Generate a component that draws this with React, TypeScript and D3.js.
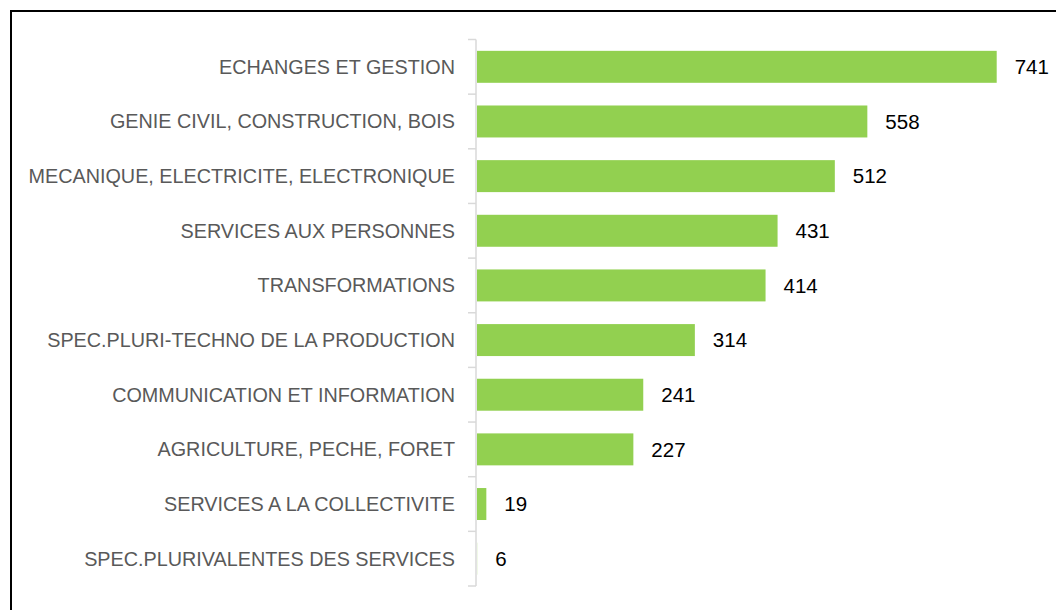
import React from "react";
import * as d3 from "d3";

const categories = [
  "ECHANGES ET GESTION",
  "GENIE CIVIL, CONSTRUCTION, BOIS",
  "MECANIQUE, ELECTRICITE, ELECTRONIQUE",
  "SERVICES AUX PERSONNES",
  "TRANSFORMATIONS",
  "SPEC.PLURI-TECHNO DE LA PRODUCTION",
  "COMMUNICATION ET INFORMATION",
  "AGRICULTURE, PECHE, FORET",
  "SERVICES A LA COLLECTIVITE",
  "SPEC.PLURIVALENTES DES SERVICES",
];
const values = [741, 558, 512, 431, 414, 314, 241, 227, 19, 6];

const W = 1056;
const H = 610;

export default function App() {
  const axisX = 476;
  const barStart = 477;
  const x = d3.scaleLinear().domain([0, 741]).range([472.9, 996.7]);
  const y = d3
    .scaleBand<string>()
    .domain(categories)
    .range([39.5, 586])
    .paddingInner(0.415)
    .paddingOuter(0.2075);
  const step = y.step();
  const y0 = 39.5;
  const ticks = d3.range(categories.length + 1).map((i) => y0 + i * step);
  const font = "'Liberation Sans', Arial, sans-serif";
  return (
    <svg
      width={W}
      height={H}
      style={{ position: "absolute", left: 0, top: 0, background: "#fff" }}
    >
      <rect x={0} y={0} width={W} height={H} fill="#fff" />
      <rect x={11} y={11} width={1100} height={700} fill="none" stroke="#000" strokeWidth={2} />
      {categories.map((c, i) => (
        <g key={c}>
          <rect
            x={barStart}
            y={y(c)!}
            width={Math.max(0, x(values[i]) - barStart)}
            height={y.bandwidth()}
            fill="#92d050"
          />
          <text
            x={455}
            y={y(c)! + y.bandwidth() / 2}
            dy="0.35em"
            textAnchor="end"
            fontFamily={font}
            fontSize={19.8}
            fill="#595959"
          >
            {c}
          </text>
          <text
            x={x(values[i]) + 18}
            y={y(c)! + y.bandwidth() / 2}
            dy="0.35em"
            textAnchor="start"
            fontFamily={font}
            fontSize={20.5}
            fill="#000"
          >
            {values[i]}
          </text>
        </g>
      ))}
      <line x1={axisX} x2={axisX} y1={ticks[0]} y2={ticks[ticks.length - 1]} stroke="#d9d9d9" strokeWidth={1.5} />
      {ticks.map((t, i) => (
        <line key={i} x1={468} x2={axisX} y1={t} y2={t} stroke="#d9d9d9" strokeWidth={1.5} />
      ))}
    </svg>
  );
}
